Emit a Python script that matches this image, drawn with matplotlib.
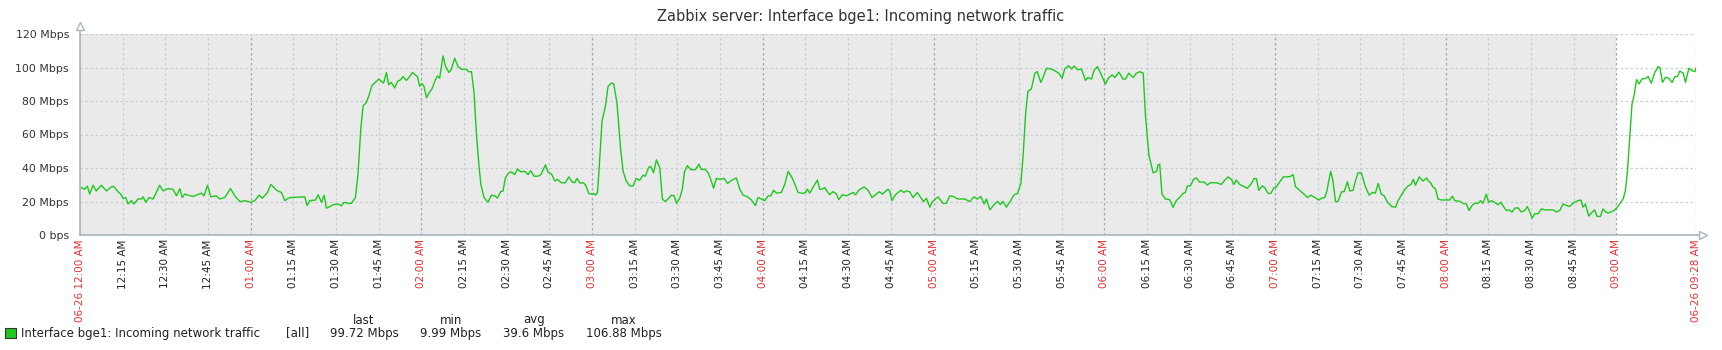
import matplotlib
matplotlib.use('Agg')
import matplotlib.pyplot as plt
from matplotlib.patches import Rectangle

plt.rcParams['font.family'] = ['DejaVu Sans']

TITLE = 'Zabbix server: Interface bge1: Incoming network traffic'
ITEM = 'Interface bge1: Incoming network traffic'

# minutes since 06-26 12:00 AM
minutes = [
    0, 1.6, 2.6, 3.4, 4.6, 5.7, 7.5, 9.3, 11.0, 11.8, 13.4, 14.3, 15.1, 16.1, 16.9, 18.1, 18.9, 20.4, 21.6, 22.2,
    23.1, 24.3, 25.7, 28.0, 29.2, 30.9, 32.7, 33.9, 35.1, 35.9, 36.8, 39.7, 42.7, 43.6, 44.8, 46.0, 47.9, 49.1, 50.9, 52.9,
    54.4, 56.2, 57.9, 60.0, 61.4, 63.0, 64.1, 65.9, 67.1, 69.1, 70.8, 72.0, 73.2, 74.3, 79.0, 79.8, 80.8, 82.8, 83.7, 84.9,
    85.8, 86.6, 87.4, 89.0, 90.7, 91.9, 92.8,
    94.2, 95.4, 96.8, 97.7, 98.7, 99.5, 100.6, 101.5, 102.6, 103.8, 105.0, 105.9, 106.7, 107.7, 108.5, 109.4, 110.6, 111.6, 112.7, 113.5,
    114.7, 115.9, 116.8, 118.6, 119.4, 120.2, 120.9, 121.8, 122.7, 123.7, 124.7, 125.6, 126.4, 127.6, 128.5, 129.7, 130.5, 131.7, 132.9, 134.1,
    135.8, 136.6, 137.6, 138.5, 139.3, 140.2, 140.9, 142.0, 143.4, 144.6, 145.8, 146.7, 147.9, 148.7, 149.5, 150.7, 151.6, 152.8, 153.8, 154.9,
    156.3, 157.5, 158.4, 159.6, 161.0, 162.0, 163.6, 164.5, 165.7, 166.9, 167.8, 169.2, 170.6, 171.8, 173.0, 173.9, 174.7, 175.7, 176.9, 177.7,
    178.8, 179.8, 180.6, 181.2, 181.9, 182.4, 183.5, 184.7, 185.6, 186.8, 187.6, 188.7,
    189.1, 190.0, 190.9, 192.0, 193.2, 194.4, 195.5, 196.7, 197.9, 198.7, 199.9, 200.6, 201.6, 202.6, 203.8, 204.7, 205.7, 206.7, 207.9, 208.8,
    209.7, 210.8, 211.7, 212.5, 213.5, 214.7, 216.3, 217.5, 218.4, 219.6, 220.8, 221.7, 222.7, 223.7, 224.9, 226.4, 227.6, 229.0, 230.7, 231.9,
    233.1, 234.6, 236.0, 237.4, 238.3, 239.5, 240.7, 241.9, 242.8, 243.8, 244.8, 246.5, 247.7, 248.9, 250.1, 251.2, 252.4, 254.2, 255.0, 255.7,
    256.5, 257.7, 259.2, 260.0, 260.8, 261.8, 262.7, 263.5, 264.7, 265.9, 266.7, 267.9, 269.4, 270.6, 271.8, 272.6, 273.7, 275.6, 277.0, 278.4,
    279.6, 280.9, 282.1, 283.5,
    284.0, 284.6, 285.4, 286.6, 288.5, 289.6, 290.4, 291.6, 292.8, 294.3, 295.5, 296.5, 297.5, 298.7, 299.6, 301.6, 303.3, 304.5, 305.7, 306.9,
    308.6, 311.0, 312.7, 314.2, 315.4, 316.6, 317.8, 318.6, 319.8, 321.3, 322.5, 323.6, 324.4, 325.6, 327.1, 328.3, 329.5, 330.7, 331.5, 332.4,
    333.2, 334.4, 335.6, 336.5, 337.7, 338.5, 339.7, 341.4, 342.6, 344.0, 345.2, 346.1, 347.5, 348.5, 349.4, 350.6, 352.0, 353.4, 354.3, 355.5,
    356.5, 357.6, 359.0, 360.4, 361.6, 362.8, 363.7, 365.2, 366.6, 367.5, 368.6, 370.2, 371.3, 372.5, 373.7, 374.5, 375.7, 377.2, 378.4,
    378.9, 379.5, 380.3, 381.5, 383.0, 384.2, 385.3, 386.5, 387.7, 388.5, 389.2, 390.3, 391.4, 392.4, 393.5, 395.1, 396.2, 397.4, 399.4, 401.2,
    402.3, 403.5, 404.7, 405.6, 406.4, 407.6, 409.1, 410.3, 411.7, 412.7, 413.5, 414.3, 415.5, 416.4, 417.6, 418.5, 419.7, 420.5, 421.5, 422.9,
    424.6, 425.6, 426.4, 427.2, 428.7, 430.5, 431.4, 432.6, 434.0, 435.4, 436.3, 437.5, 438.3, 438.9, 439.6, 440.4, 441.3, 442.2, 443.4, 444.3,
    445.5, 446.3, 447.5, 448.1, 449.2, 450.4, 451.6, 453.1, 454.3, 455.3, 456.3, 457.4, 458.4, 459.6, 461.0, 462.4, 463.3, 464.5, 465.7, 466.8,
    467.8, 468.6, 469.4, 470.7, 472.1, 473.3,
    473.8, 474.7, 475.6, 476.4, 477.3, 478.5, 479.9, 481.4, 482.4, 483.2, 484.9, 486.1, 487.3, 488.2, 489.3, 490.2, 491.4, 492.3, 493.1, 494.3,
    495.1, 496.1, 497.2, 498.4, 499.4, 500.5, 501.4, 502.3, 503.3, 504.3, 505.5, 506.6, 507.8, 508.7, 509.6, 510.4, 511.3, 512.5, 513.7, 514.8,
    516.0, 517.8, 518.9, 520.1, 521.3, 522.5, 523.6, 525.1, 526.6, 527.5, 528.3, 529.1, 530.3, 531.2, 532.4, 533.2, 534.4, 535.3, 536.3, 537.1,
    538.0, 539.2, 540.4, 541.6, 542.4, 543.2, 543.9, 544.7, 545.5, 546.3, 547.1, 548.0, 549.1, 550.0, 551.2, 552.3, 553.5, 554.7, 555.3, 556.2,
    557.3, 558.4, 559.6, 560.6, 561.5, 562.3, 563.5, 564.3, 565.5, 566.7, 567.6, 568.0,
]

mbps = [
    28.7, 27.3, 29.1, 24.4, 29.7, 26.3, 29.7, 26.3, 28.7, 29.1, 25.8, 24.4, 21.9, 22.4, 18.5, 20.5, 18.5, 21.5, 21.5, 22.8,
    19.5, 22.4, 21.5, 29.7, 26.3, 27.7, 27.3, 23.4, 27.7, 22.4, 24.4, 23.0, 25.0, 23.4, 29.7, 22.8, 23.4, 21.5, 22.4, 27.7,
    23.4, 19.9, 20.5, 19.5, 20.5, 23.8, 22.0, 25.4, 30.2, 26.7, 25.4, 20.5, 22.0, 22.4, 22.8, 17.6, 20.5, 20.9, 24.0, 19.5,
    23.8, 16.0, 16.6, 18.1, 18.5, 17.4, 19.5,
    18.9, 18.9, 22.4, 36.1, 63.4, 77.1, 79.0, 82.9, 89.2, 91.1, 93.1, 91.7, 90.7, 97.0, 89.7, 91.1, 87.8, 91.7, 92.7, 94.6,
    92.3, 94.6, 97.0, 94.6, 88.8, 90.3, 88.8, 81.9, 84.9, 87.2, 91.7, 95.0, 93.6, 106.9, 100.5, 97.0, 98.9, 105.5, 100.5, 98.9,
    98.9, 97.5, 97.5, 84.9, 61.5, 41.9, 30.2, 22.4, 19.5, 23.8, 23.4, 22.0, 25.9, 26.3, 34.1, 37.1, 37.7, 36.1, 39.4, 37.7,
    38.0, 36.1, 38.4, 35.1, 35.1, 36.1, 41.9, 37.5, 36.5, 32.2, 33.2, 31.2, 31.2, 34.7, 31.6, 31.2, 33.8, 31.0, 31.2, 29.9,
    24.8, 24.4, 24.8, 23.8, 25.4, 38.0, 68.3, 77.1, 88.8, 90.7, 90.3, 79.0,
    71.2, 51.7, 38.0, 32.2, 29.3, 29.3, 33.8, 32.6, 35.7, 35.1, 40.4, 41.0, 37.1, 44.9, 40.0, 21.5, 19.9, 21.5, 23.8, 23.4,
    18.9, 22.0, 27.3, 38.0, 41.4, 39.0, 39.0, 42.3, 39.0, 39.4, 37.1, 33.2, 27.9, 33.8, 33.2, 33.8, 30.8, 32.6, 34.1, 27.3,
    23.8, 22.8, 20.9, 17.6, 22.4, 21.5, 20.5, 23.4, 23.4, 26.7, 25.0, 25.4, 30.2, 38.0, 34.7, 30.6, 25.4, 24.8, 25.4, 27.3,
    25.0, 28.7, 32.8, 27.3, 27.3, 28.3, 25.8, 24.0, 25.9, 24.4, 21.1, 24.0, 23.4, 24.4, 25.4, 24.0, 26.7, 28.7, 26.7, 22.4,
    24.0, 25.8, 24.4, 26.7,
    27.3, 26.3, 20.5, 24.0, 26.7, 25.4, 26.3, 25.9, 22.4, 25.4, 22.4, 19.9, 21.9, 16.6, 19.9, 22.8, 18.9, 18.9, 23.4, 23.0,
    21.5, 21.5, 19.9, 22.8, 21.5, 23.0, 18.5, 21.5, 15.0, 18.1, 20.1, 18.1, 20.1, 16.6, 20.5, 24.0, 24.8, 30.6, 47.8, 73.2,
    85.8, 87.2, 96.6, 97.5, 91.1, 94.0, 99.5, 99.1, 98.1, 96.6, 93.6, 99.1, 101.1, 99.1, 100.9, 98.7, 99.1, 92.3, 94.0, 93.1,
    98.5, 100.5, 95.6, 90.1, 94.0, 95.6, 94.0, 97.2, 93.1, 93.1, 96.6, 94.0, 96.6, 97.5, 96.6, 71.2, 47.8, 37.1, 38.0,
    41.9, 42.3, 24.4, 21.5, 21.1, 16.6, 20.5, 22.4, 24.8, 25.4, 29.3, 29.3, 33.2, 34.1, 31.6, 31.6, 29.9, 31.2, 31.2, 30.2,
    32.6, 34.7, 33.2, 30.2, 32.8, 30.2, 28.9, 27.9, 30.6, 33.8, 33.6, 26.7, 29.3, 28.3, 24.8, 24.8, 28.3, 28.7, 31.2, 34.7,
    34.7, 35.1, 36.1, 28.9, 26.7, 24.0, 22.4, 23.8, 22.4, 20.9, 21.9, 22.4, 26.3, 32.2, 38.0, 32.2, 19.9, 20.1, 25.8, 25.8,
    31.8, 26.3, 26.7, 31.2, 37.1, 37.1, 29.7, 23.8, 25.4, 25.0, 30.8, 24.4, 23.4, 19.5, 17.0, 16.6, 20.5, 24.0, 27.3, 29.3,
    30.2, 33.2, 29.7, 34.7, 32.2, 34.1,
    32.6, 31.2, 28.5, 27.7, 21.5, 20.9, 20.9, 20.9, 23.2, 20.5, 20.1, 18.9, 18.5, 14.6, 17.6, 18.9, 18.9, 20.5, 18.9, 24.4,
    19.5, 20.5, 19.5, 18.1, 19.5, 16.6, 14.6, 15.0, 13.7, 16.0, 16.2, 13.7, 14.6, 17.0, 13.7, 10.0, 12.7, 12.7, 15.6, 15.0,
    15.0, 15.0, 13.7, 14.6, 18.5, 17.6, 17.0, 19.5, 20.5, 20.9, 16.6, 18.5, 11.3, 13.1, 15.0, 11.1, 11.1, 15.6, 13.7, 13.1,
    13.7, 14.6, 16.6, 19.5, 21.5, 26.7, 38.0, 57.6, 78.0, 83.9, 92.7, 90.3, 93.3, 93.3, 94.6, 90.7, 97.0, 100.5, 99.9, 91.1,
    94.2, 93.6, 91.1, 94.6, 94.6, 97.9, 96.6, 91.1, 99.5, 98.1, 97.5, 99.7,
]
assert len(minutes) == len(mbps)

y_ticks = [0, 20, 40, 60, 80, 100, 120]
y_labels = ['0 bps', '20 Mbps', '40 Mbps', '60 Mbps', '80 Mbps', '100 Mbps', '120 Mbps']
x_ticks = list(range(0, 541, 15)) + [568]
work_start = 540   # 09:00 AM, end of the shaded period
t_end = 568

legend_cols = ['last', 'min', 'avg', 'max']
legend_vals = ['99.72 Mbps', '9.99 Mbps', '39.6 Mbps', '106.88 Mbps']


def tick_label(m):
    h, mm = divmod(m, 60)
    hh = 12 if h == 0 else h
    s = '%02d:%02d AM' % (hh, mm)
    if m == 0 or m == t_end:
        s = '06-26 ' + s
    return s


W, H = 1722, 350
fig = plt.figure(figsize=(W / 100, H / 100), dpi=100)
x0, x1, ytop, ybot = 80, 1696, 34, 235
ax = fig.add_axes([x0 / W, 1 - ybot / H, (x1 - x0) / W, (ybot - ytop) / H])

axis_col = '#a9b5bd'
grid_col = '#c7cfd4'
hour_col = '#9ea9b0'
green = '#1ec81e'

ax.set_xlim(0, t_end)
ax.set_ylim(0, 120)
ax.axvspan(0, work_start, color='#eaeaea', zorder=0, lw=0)

for m in x_ticks:
    hourly = (m % 60 == 0) and m != 0
    ax.axvline(m, color=hour_col if hourly else grid_col, lw=0.9,
               ls=(0, (2, 2)), zorder=1)
for v in y_ticks[1:]:
    ax.axhline(v, color=grid_col, lw=0.9, ls=(0, (2, 2)), zorder=1)

ax.plot(minutes, mbps, color=green, lw=1.0, zorder=3)

for s in ax.spines.values():
    s.set_visible(False)
# axis lines with hollow arrow heads
ax.plot([0, 0], [0, 124], color=axis_col, lw=1.2, clip_on=False, zorder=4)
ax.plot([0, 569], [0, 0], color=axis_col, lw=1.2, clip_on=False, zorder=4)
ax.plot([0], [124.5], marker='^', ms=6, mfc='white', mec=axis_col, mew=1,
        clip_on=False, zorder=5)
ax.plot([570.5], [0], marker='>', ms=6, mfc='white', mec=axis_col, mew=1,
        clip_on=False, zorder=5)

ax.set_yticks(y_ticks)
ax.set_yticklabels(y_labels, fontsize=7.8, color='#333333')
ax.set_xticks(x_ticks)
ax.set_xticklabels([tick_label(m) for m in x_ticks], rotation=90,
                   fontsize=7.5, va='top', ha='center')
for m, lab in zip(x_ticks, ax.get_xticklabels()):
    lab.set_color('#e53030' if m % 60 == 0 or m == t_end else '#222222')
ax.tick_params(axis='both', length=0)
ax.tick_params(axis='y', pad=8)
ax.tick_params(axis='x', pad=3)

fig.text(0.5, 1 - 17 / H, TITLE, ha='center', va='center', fontsize=10.5,
         color='#333333')

# legend
fig.patches.append(Rectangle((5 / W, 1 - 338 / H), 11 / W, 10 / H,
                             transform=fig.transFigure, fc=green, ec='#333333',
                             lw=0.8))
fig.text(21 / W, 1 - 333 / H, ITEM, ha='left', va='center', fontsize=8.5,
         color='#222222')
fig.text(286 / W, 1 - 333 / H, '[all]', ha='left', va='center', fontsize=8.5,
         color='#222222')
col_x = [364, 451, 534, 624]
for cx, head, val in zip(col_x, legend_cols, legend_vals):
    fig.text(cx / W, 1 - 320 / H, head, ha='center', va='center',
             fontsize=8.5, color='#222222')
    fig.text(cx / W, 1 - 333 / H, val, ha='center', va='center',
             fontsize=8.5, color='#222222')

fig.savefig('out.png', dpi=100, facecolor='white')
